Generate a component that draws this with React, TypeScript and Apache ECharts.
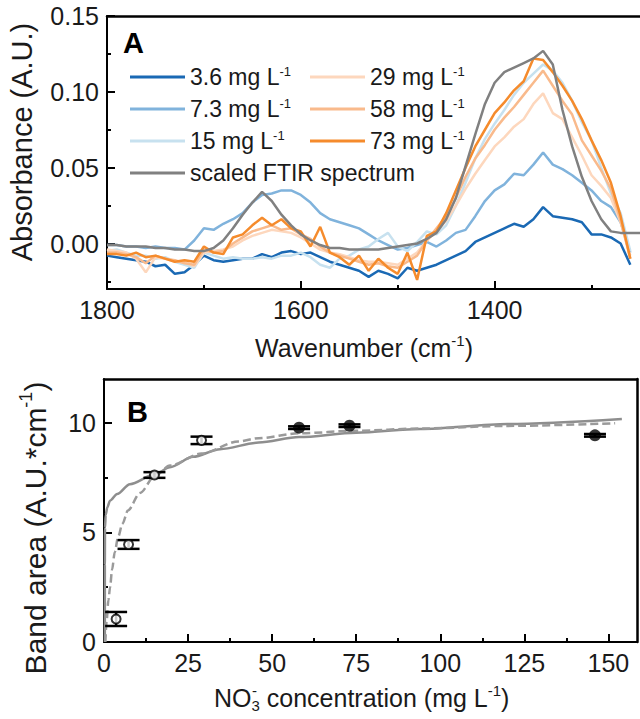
import React, { useEffect, useRef } from "react";
import * as echarts from "echarts";

const FONT = "'Liberation Sans', Arial, Helvetica, sans-serif";
const INK = "#1a1a1a";

// ---------- Panel A: spectra ----------
const wavenumbers = [
  1800, 1790, 1780, 1770, 1760, 1750, 1740, 1730, 1720, 1710,
  1700, 1690, 1680, 1670, 1660, 1650, 1640, 1630, 1620, 1610,
  1600, 1590, 1580, 1570, 1560, 1550, 1540, 1530, 1520, 1510,
  1500, 1490, 1480, 1470, 1460, 1450, 1440, 1430, 1420, 1410,
  1400, 1390, 1380, 1370, 1360, 1350, 1340, 1330, 1320, 1310,
  1300, 1290, 1280, 1270, 1260, 1250,
];

const abs3_6 = [
  -0.008, -0.009, -0.010, -0.011, -0.012, -0.015, -0.014, -0.020, -0.019, -0.014,
  -0.008, -0.011, -0.012, -0.011, -0.010, -0.010, -0.007, -0.009, -0.006, -0.005,
  -0.007, -0.006, -0.009, -0.012, -0.014, -0.016, -0.018, -0.022, -0.018, -0.020,
  -0.023, -0.016, -0.018, -0.016, -0.014, -0.011, -0.008, -0.005, 0.001, 0.004,
  0.007, 0.010, 0.013, 0.011, 0.016, 0.024, 0.018, 0.017, 0.016, 0.014,
  0.006, 0.006, 0.004, 0.000, -0.014,
];
const abs7_3 = [
  -0.001, -0.001, -0.002, -0.002, -0.003, -0.002, -0.003, -0.003, -0.004, 0.002,
  0.010, 0.009, 0.013, 0.016, 0.020, 0.027, 0.032, 0.033, 0.035, 0.035,
  0.032, 0.027, 0.020, 0.016, 0.014, 0.012, 0.010, 0.006, 0.002, -0.001,
  -0.004, -0.003, -0.001, 0.001, -0.002, 0.002, 0.007, 0.009, 0.018, 0.028,
  0.035, 0.039, 0.046, 0.045, 0.052, 0.060, 0.052, 0.049, 0.045, 0.040,
  0.035, 0.028, 0.024, 0.014, -0.006,
];
const abs15 = [
  -0.005, -0.004, -0.006, -0.008, -0.008, -0.010, -0.009, -0.012, -0.014, -0.016,
  -0.006, -0.008, -0.010, -0.009, -0.010, -0.010, -0.009, -0.010, -0.008, -0.008,
  -0.006, -0.009, -0.014, -0.016, -0.010, -0.008, -0.004, -0.002, 0.003, 0.007,
  -0.002, -0.005, 0.001, 0.008, 0.006, 0.012, 0.025, 0.040, 0.056, 0.069,
  0.079, 0.088, 0.098, 0.106, 0.112, 0.118, 0.114, 0.106, 0.094, 0.080,
  0.068, 0.050, 0.033, 0.020, -0.005,
];
const abs29 = [
  -0.004, -0.005, -0.006, -0.010, -0.019, -0.009, -0.010, -0.012, -0.012, -0.015,
  -0.006, -0.005, -0.004, -0.002, 0.002, 0.005, 0.007, 0.009, 0.008, 0.007,
  0.004, 0.000, -0.004, -0.006, -0.007, -0.009, -0.011, -0.012, -0.012, -0.013,
  -0.014, -0.010, -0.006, 0.002, 0.008, 0.015, 0.025, 0.036, 0.046, 0.055,
  0.064, 0.070, 0.077, 0.082, 0.092, 0.099, 0.086, 0.082, 0.070, 0.058,
  0.045, 0.038, 0.030, 0.014, -0.008,
];
const abs58 = [
  -0.006, -0.006, -0.007, -0.009, -0.013, -0.008, -0.010, -0.011, -0.013, -0.014,
  -0.004, -0.006, -0.005, 0.000, 0.004, 0.008, 0.010, 0.012, 0.009, 0.010,
  0.006, 0.003, -0.002, -0.006, -0.008, -0.010, -0.012, -0.014, -0.013, -0.015,
  -0.016, -0.012, -0.008, 0.002, 0.010, 0.018, 0.030, 0.044, 0.056, 0.065,
  0.075, 0.083, 0.090, 0.098, 0.106, 0.114, 0.104, 0.094, 0.085, 0.068,
  0.058, 0.048, 0.036, 0.015, -0.010,
];
const abs73 = [
  -0.007, -0.007, -0.008, -0.006, -0.009, -0.008, -0.010, -0.012, -0.011, -0.012,
  -0.002, -0.006, -0.007, 0.004, 0.006, 0.012, 0.017, 0.012, 0.016, 0.010,
  0.008, -0.002, 0.011, -0.006, -0.009, -0.014, -0.008, -0.018, -0.010, -0.016,
  -0.020, -0.006, -0.024, 0.005, 0.008, 0.020, 0.035, 0.050, 0.064, 0.075,
  0.086, 0.093, 0.101, 0.107, 0.122, 0.121, 0.113, 0.104, 0.094, 0.082,
  0.068, 0.055, 0.040, 0.018, -0.010,
];
const absFTIR = [
  -0.001, -0.001, -0.002, -0.002, -0.002, -0.003, -0.003, -0.004, -0.004, -0.005,
  -0.005, -0.003, 0.002, 0.010, 0.019, 0.027, 0.034, 0.028, 0.019, 0.012,
  0.006, 0.002, -0.001, -0.003, -0.003, -0.004, -0.004, -0.004, -0.004, -0.003,
  -0.002, -0.001, 0.000, 0.003, 0.007, 0.016, 0.030, 0.051, 0.072, 0.092,
  0.106, 0.113, 0.116, 0.119, 0.122, 0.127, 0.118, 0.088, 0.064, 0.044,
  0.028, 0.016, 0.008, 0.007, 0.007, 0.007,
];

const spectraNames = [
  "3.6 mg L-1", "7.3 mg L-1", "15 mg L-1", "29 mg L-1", "58 mg L-1", "73 mg L-1",
  "scaled FTIR spectrum",
];
const spectraValues = [abs3_6, abs7_3, abs15, abs29, abs58, abs73, absFTIR];
const spectraColors = ["#1a69b4", "#80b3dc", "#c7e1ef", "#fdd7bd", "#f9ba8c", "#f58b2c", "#808080"];

const waveLabels = [1800, 1600, 1400];
const waveMinor = [1700, 1500, 1300];
const absLabels = [0, 0.05, 0.1, 0.15];
const absMinor = [-0.025, 0.025, 0.075, 0.125];

// ---------- Panel B: band area ----------
const concentrations = [3.6, 7.3, 15, 29, 58, 73, 146];
const bandArea = [1.05, 4.45, 7.62, 9.2, 9.78, 9.87, 9.43];
const bandAreaErr = [0.32, 0.2, 0.13, 0.17, 0.06, 0.06, 0.06];
const filledPoint = [false, false, false, false, true, true, true];

const fitSolidX = [0.25, 0.25, 0.3, 0.5, 1, 1.8, 3.9, 7.7, 15, 19.6, 26.5, 34.5, 46, 58, 75, 94, 120, 154];
const fitSolidY = [0, 3.5, 5.2, 5.8, 6.15, 6.45, 6.75, 7.2, 7.64, 7.97, 8.45, 8.8, 9.1, 9.35, 9.55, 9.72, 9.95, 10.18];
const fitDashX = [0.4, 0.8, 1.3, 1.8, 2.4, 3.2, 4.2, 5.5, 7.1, 10.7, 15, 19.6, 29, 40, 46, 58, 75, 94, 120, 152];
const fitDashY = [0, 1.0, 1.9, 2.5, 3.3, 4.1, 4.8, 5.4, 6.0, 6.8, 7.55, 8.05, 8.6, 9.15, 9.3, 9.52, 9.64, 9.74, 9.86, 9.98];

const concLabels = [0, 25, 50, 75, 100, 125, 150];
const concMinor = [12.5, 37.5, 62.5, 87.5, 112.5, 137.5];
const areaLabels = [0, 5, 10];
const areaMinor = [2.5, 7.5];

const tickLabel = { fontSize: 25, fontFamily: FONT, color: INK };
const blackLine = (w: number) => ({ color: "#000", width: w });

function mainAxis(extra: any, labels: number[], fmt?: (v: number) => string) {
  return {
    type: "value",
    axisLine: { show: true, onZero: false, lineStyle: blackLine(2) },
    axisTick: { show: true, inside: true, length: 8, lineStyle: blackLine(2), customValues: labels },
    axisLabel: { show: true, customValues: labels, ...tickLabel, formatter: fmt || ((v: number) => String(v)) },
    splitLine: { show: false },
    ...extra,
  };
}
function minorAxis(extra: any, ticks: number[]) {
  return {
    type: "value",
    axisLine: { show: false, onZero: false },
    axisTick: { show: true, inside: true, length: 4, lineStyle: blackLine(2), customValues: ticks },
    axisLabel: { show: false },
    splitLine: { show: false },
    ...extra,
  };
}
function frameAxis(extra: any) {
  return {
    type: "value",
    axisLine: { show: true, onZero: false, lineStyle: blackLine(2.5) },
    axisTick: { show: false },
    axisLabel: { show: false },
    splitLine: { show: false },
    ...extra,
  };
}

const supRich = (size: number) => ({
  sup: { fontSize: size, lineHeight: size, verticalAlign: "top", fontFamily: FONT, fill: INK, color: INK },
  sub: { fontSize: size, lineHeight: size, verticalAlign: "bottom", fontFamily: FONT, fill: INK, color: INK },
});

function titleText(x: number, y: number, text: string, size: number, rotation = 0, align = "center") {
  return {
    type: "text",
    x,
    y,
    rotation,
    z: 100,
    style: {
      text,
      fontSize: size,
      fontFamily: FONT,
      fill: INK,
      lineHeight: Math.round(size * 1.2),
      align,
      textAlign: align,
      verticalAlign: "middle",
      textVerticalAlign: "middle",
      rich: supRich(Math.round(size * 0.6)),
    },
  };
}

const legendFmt = (name: string) => name.replace(" L-1", " L{sup|-1}");

export default function App() {
  const ref = useRef<HTMLDivElement>(null);

  useEffect(() => {
    const chart = echarts.init(ref.current!, null, { renderer: "svg" });

    const spectraSeries = spectraNames.map((name, i) => ({
      name,
      type: "line",
      xAxisIndex: 0,
      yAxisIndex: 0,
      symbol: "none",
      color: spectraColors[i],
      lineStyle: { color: spectraColors[i], width: 2.5 },
      data: spectraValues[i].map((v, j) => [wavenumbers[j], v]),
      z: 2,
    }));

    const legendCommon = {
      orient: "vertical",
      top: 65,
      padding: 0,
      itemWidth: 55,
      itemHeight: 3,
      itemGap: 8,
      icon: "rect",
      selectedMode: false,
      itemStyle: { borderWidth: 0 },
      formatter: legendFmt,
      textStyle: {
        fontSize: 23,
        fontFamily: FONT,
        color: INK,
        lineHeight: 24,
        rich: supRich(13),
      },
    };

    const option: any = {
      animation: false,
      backgroundColor: "#fff",
      grid: [
        { left: 107, top: 16, width: 539, height: 273 },
        { left: 104, top: 379, width: 533, height: 263 },
      ],
      xAxis: [
        mainAxis({ gridIndex: 0, min: 1250, max: 1800, inverse: true, position: "bottom" }, waveLabels),
        minorAxis({ gridIndex: 0, min: 1250, max: 1800, inverse: true, position: "bottom" }, waveMinor),
        frameAxis({ gridIndex: 0, min: 1250, max: 1800, inverse: true, position: "top" }),
        mainAxis({ gridIndex: 1, min: 0, max: 158.5, position: "bottom" }, concLabels),
        minorAxis({ gridIndex: 1, min: 0, max: 158.5, position: "bottom" }, concMinor),
        frameAxis({ gridIndex: 1, min: 0, max: 158.5, position: "top" }),
      ],
      yAxis: [
        mainAxis({ gridIndex: 0, min: -0.03, max: 0.15, position: "left" }, absLabels, (v: number) => v.toFixed(2)),
        minorAxis({ gridIndex: 0, min: -0.03, max: 0.15, position: "left" }, absMinor),
        mainAxis({ gridIndex: 1, min: 0, max: 12, position: "left" }, areaLabels),
        minorAxis({ gridIndex: 1, min: 0, max: 12, position: "left" }, areaMinor),
        frameAxis({ gridIndex: 1, min: 0, max: 12, position: "right" }),
      ],
      legend: [
        { ...legendCommon, left: 130, data: [spectraNames[0], spectraNames[1], spectraNames[2], spectraNames[6]] },
        { ...legendCommon, left: 310, data: [spectraNames[3], spectraNames[4], spectraNames[5]] },
      ],
      graphic: [
        {
          type: "text", x: 123, y: 28, z: 100,
          style: { text: "A", fontSize: 29, fontWeight: "bold", fontFamily: FONT, fill: "#000", verticalAlign: "top", textVerticalAlign: "top" },
        },
        {
          type: "text", x: 127, y: 397, z: 100,
          style: { text: "B", fontSize: 29, fontWeight: "bold", fontFamily: FONT, fill: "#000", verticalAlign: "top", textVerticalAlign: "top" },
        },
        titleText(364, 348, "Wavenumber (cm{sup|-1})", 25),
        titleText(22, 142, "Absorbance (A.U.)", 29, Math.PI / 2),
        titleText(35, 528, "Band area (A.U.*cm{sup|-1})", 30, Math.PI / 2),
        titleText(214, 698, "NO{sub|3} concentration (mg L{sup|-1})", 25, 0, "left"),
        {
          type: "text", x: 252, y: 690, z: 100,
          style: { text: "-", fontSize: 15, fontFamily: FONT, fill: INK, verticalAlign: "middle", textVerticalAlign: "middle" },
        },
      ],
      series: [
        ...spectraSeries,
        {
          type: "line",
          xAxisIndex: 3,
          yAxisIndex: 2,
          symbol: "none",
          smooth: 0.3,
          smoothMonotone: "x",
          lineStyle: { color: "#8e8e8e", width: 2.5 },
          data: fitSolidX.map((x, i) => [x, fitSolidY[i]]),
          z: 2,
        },
        {
          type: "line",
          xAxisIndex: 3,
          yAxisIndex: 2,
          symbol: "none",
          smooth: 0.3,
          smoothMonotone: "x",
          lineStyle: { color: "#9a9a9a", width: 2.5, type: [8, 4] },
          data: fitDashX.map((x, i) => [x, fitDashY[i]]),
          z: 2,
        },
        {
          type: "custom",
          xAxisIndex: 3,
          yAxisIndex: 2,
          z: 4,
          encode: { x: 0, y: 1 },
          data: concentrations.map((c, i) => [c, bandArea[i], bandAreaErr[i]]),
          renderItem: (_params: any, api: any) => {
            const x = api.value(0);
            const y = api.value(1);
            const e = api.value(2);
            const p1 = api.coord([x, y + e]);
            const p2 = api.coord([x, y - e]);
            const hw = 11;
            const st = { stroke: "#000", lineWidth: 2.5 };
            return {
              type: "group",
              children: [
                { type: "line", shape: { x1: p1[0], y1: p1[1], x2: p2[0], y2: p2[1] }, style: st },
                { type: "line", shape: { x1: p1[0] - hw, y1: p1[1], x2: p1[0] + hw, y2: p1[1] }, style: st },
                { type: "line", shape: { x1: p2[0] - hw, y1: p2[1], x2: p2[0] + hw, y2: p2[1] }, style: st },
              ],
            };
          },
        },
        {
          type: "scatter",
          xAxisIndex: 3,
          yAxisIndex: 2,
          z: 5,
          symbol: "circle",
          symbolSize: 9,
          itemStyle: { color: "#fff", borderColor: "#000", borderWidth: 2 },
          data: concentrations.map((c, i) => [c, bandArea[i]]).filter((_, i) => !filledPoint[i]),
        },
        {
          type: "scatter",
          xAxisIndex: 3,
          yAxisIndex: 2,
          z: 5,
          symbol: "circle",
          symbolSize: 12,
          itemStyle: { color: "#000" },
          data: concentrations.map((c, i) => [c, bandArea[i]]).filter((_, i) => filledPoint[i]),
        },
      ],
    };

    chart.setOption(option);
    return () => chart.dispose();
  }, []);

  return (
    <div
      ref={ref}
      style={{ position: "fixed", left: 0, top: 0, width: 640, height: 719, background: "#fff" }}
    />
  );
}
